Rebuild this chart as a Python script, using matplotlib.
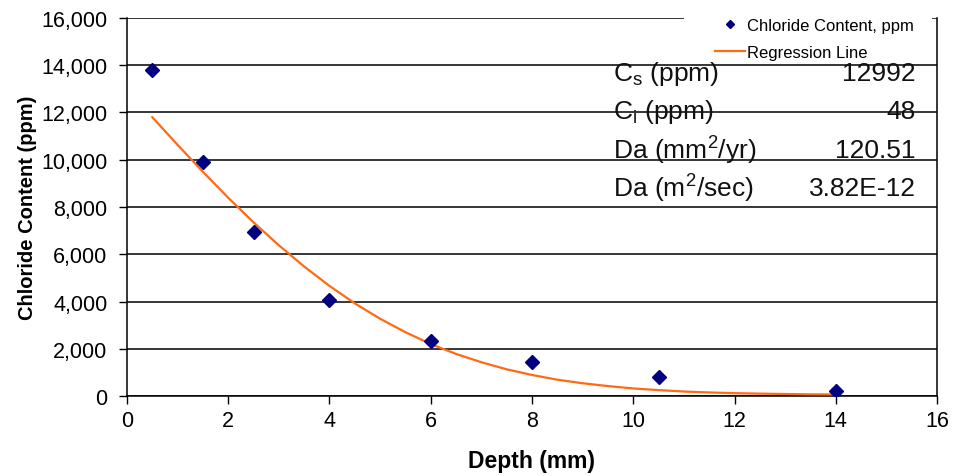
import matplotlib
matplotlib.use("Agg")
import matplotlib.pyplot as plt
from matplotlib.ticker import FuncFormatter
from matplotlib.patches import Rectangle

plt.rcParams['font.family'] = ['Liberation Sans', 'DejaVu Sans']
plt.rcParams['mathtext.default'] = 'regular'

# measured chloride content
depth = [0.5, 1.5, 2.5, 4, 6, 8, 10.5, 14]
chloride = [13800, 9900, 6950, 4060, 2330, 1440, 800, 210]

# regression curve
fit_depth = [0.5, 1, 1.5, 2, 2.5, 3, 3.5, 4, 4.5, 5, 5.5, 6, 6.5, 7, 7.5,
             8, 8.5, 9, 9.5, 10, 10.5, 11, 11.5, 12, 12.5, 13, 13.5, 14]
fit_chloride = [11800, 10630, 9490, 8390, 7350, 6380, 5480, 4660, 3920, 3270,
                2700, 2200, 1780, 1430, 1130, 890, 690, 540, 420, 320,
                250, 190, 150, 120, 100, 85, 70, 65]

param_names = ['C$_s$ (ppm)', 'C$_i$ (ppm)', 'Da (mm$^2$/yr)', 'Da (m$^2$/sec)']
param_values = ['12992', '48', '120.51', '3.82E-12']

fig = plt.figure(figsize=(9.54, 4.77), dpi=100)
ax = fig.add_axes([0.1331, 0.1677, 0.8491, 0.7925])

ax.plot(depth, chloride, linestyle='none', marker='D', markersize=7.5,
        color='#000080', label='Chloride Content, ppm', zorder=4)
ax.plot(fit_depth, fit_chloride, color='#FF6A13', linewidth=1.6,
        label='Regression Line', zorder=3)

ax.set_xlim(0, 16)
ax.set_ylim(0, 16000)
ax.set_xticks(range(0, 17, 2))
ax.set_yticks(range(0, 16001, 2000))
ax.yaxis.set_major_formatter(FuncFormatter(lambda v, p: f'{int(v):,}'))
ax.grid(axis='y', color='black', linewidth=1.1)
ax.set_axisbelow(True)
ax.tick_params(direction='out', length=6, width=1, labelsize=15.5, colors='black')
ax.tick_params(axis='y', pad=8)
ax.tick_params(axis='x', pad=4)
ax.spines['top'].set_visible(False)
for s in ['left', 'bottom', 'right']:
    ax.spines[s].set_linewidth(1.1)

ax.set_xlabel('Depth (mm)', fontsize=16.5, fontweight='bold', labelpad=13)
ax.set_ylabel('Chloride Content (ppm)', fontsize=14.5, fontweight='bold', labelpad=3)

rows_y = [0.854, 0.754, 0.651, 0.550]
for name, val, yy in zip(param_names, param_values, rows_y):
    ax.text(0.600, yy, name, transform=ax.transAxes, fontsize=19,
            ha='left', va='center', color='#111111', zorder=1)
    ax.text(0.974, yy, val, transform=ax.transAxes, fontsize=19,
            ha='right', va='center', color='#111111', zorder=1)

# white block behind the legend hides the top gridline
ax.add_patch(Rectangle((0.688, 0.891), 0.306, 0.2, transform=ax.transAxes,
                       facecolor='white', edgecolor='none', clip_on=False, zorder=4.5))

leg = ax.legend(loc='upper right', bbox_to_anchor=(0.9716, 1.0), fontsize=12,
                frameon=False, markerscale=0.6, handlelength=1.8, handletextpad=0.15,
                labelspacing=0.7, borderpad=0, borderaxespad=0)
leg.set_zorder(5)

fig.savefig('out.png', dpi=100)
